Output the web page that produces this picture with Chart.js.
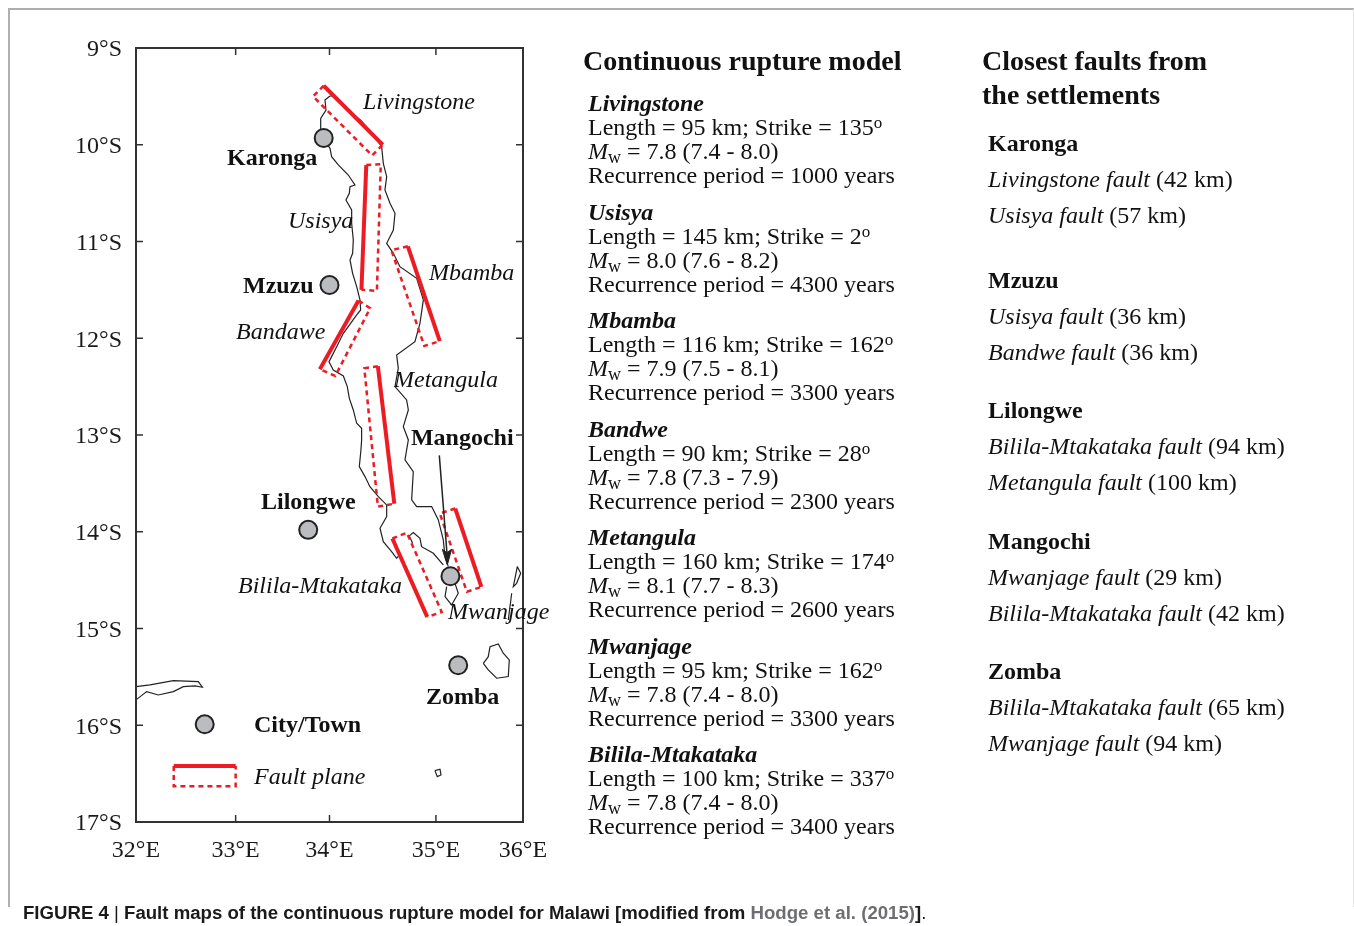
<!DOCTYPE html>
<html>
<head>
<meta charset="utf-8">
<script src="https://cdn.jsdelivr.net/npm/chart.js@4"></script>
<style>
  html, body { margin: 0; padding: 0; background: #fff; }
  body { width: 1354px; height: 926px; position: relative; overflow: hidden; font-family: "Liberation Serif", serif; color: #111; }
  #frame { position: absolute; left: 8px; top: 8px; width: 1346px; height: 899px; border-top: 2px solid #adadad; border-left: 2px solid #b0b0b0; border-right: 1px solid #e3e3e3; box-sizing: border-box; }
  canvas { position: absolute; left: 0; top: 0; }
  .line { position: absolute; font-size: 24px; line-height: 24px; white-space: nowrap; }
  .title { font-size: 28px; font-weight: bold; line-height: 34px; }
  .head { font-weight: bold; }
  .fname { font-weight: bold; font-style: italic; }
  .item { font-style: italic; }
  .item span { font-style: normal; }
  sup { font-size: 17px; line-height: 0; vertical-align: 7px; }
  sub { font-size: 18px; line-height: 0; vertical-align: -4px; }
  #caption { position: absolute; left: 23px; top: 902px; font: bold 18.62px "Liberation Sans", sans-serif; white-space: nowrap; color: #1a1a1a; }
  #caption .thin { font-weight: normal; }
  #caption .ref { color: #6d6e71; }
</style>
</head>
<body>
<div id="frame"></div>
<canvas id="map" width="1354" height="926"></canvas>
<div id="panel"></div>
<div id="caption">FIGURE 4 <span class="thin">|</span> Fault maps of the continuous rupture model for Malawi [modified from <span class="ref">Hodge et al. (2015)</span>]<span class="thin">.</span></div>

<script>
/* =========================
   DATA
========================= */

const latTicks = [9, 10, 11, 12, 13, 14, 15, 16, 17];
const lonTicks = [32, 33.03, 34.0, 35.1, 36];
const lonTickLabels = ["32°E", "33°E", "34°E", "35°E", "36°E"];

// lake shores, [lon, lat]
const westShore = [[34.005,9.496],[33.953,9.537],[33.964,9.641],[33.909,9.727],[33.909,9.83],[33.936,9.934],[34.005,10.037],[34.022,10.123],[34.091,10.209],[34.194,10.313],[34.263,10.416],[34.212,10.433],[34.205,10.502],[34.17,10.571],[34.229,10.674],[34.229,10.812],[34.246,10.984],[34.239,11.122],[34.212,11.191],[34.239,11.329],[34.281,11.467],[34.315,11.604],[34.322,11.708],[34.281,11.759],[34.194,11.88],[34.143,11.949],[34.074,12.087],[34.022,12.19],[33.995,12.242],[34.039,12.328],[34.143,12.39],[34.184,12.5],[34.205,12.621],[34.246,12.741],[34.281,12.879],[34.332,12.931],[34.332,13.051],[34.325,13.155],[34.308,13.327],[34.367,13.43],[34.418,13.534],[34.505,13.637],[34.591,13.723],[34.591,13.844],[34.522,13.964],[34.556,14.102],[34.642,14.205],[34.694,14.274],[34.722,14.24]];
const eastShore = [[34.005,9.496],[34.05,9.495],[34.229,9.675],[34.322,9.745],[34.436,9.875],[34.539,10.02],[34.556,10.192],[34.591,10.33],[34.573,10.468],[34.625,10.605],[34.677,10.709],[34.66,10.881],[34.591,11.019],[34.66,11.122],[34.728,11.26],[34.901,11.381],[34.97,11.604],[34.935,11.846],[34.883,12.035],[34.694,12.173],[34.711,12.311],[34.677,12.5],[34.797,12.638],[34.815,12.741],[34.763,12.914],[34.815,13.051],[34.78,13.258],[34.866,13.379],[34.849,13.671],[34.901,13.74],[35.056,13.74],[35.125,13.878],[35.176,14.085],[35.194,14.257],[35.228,14.36]];
const southShore = [[35.211,14.567],[35.194,14.67],[35.262,14.757],[35.331,14.636],[35.297,14.533],[35.331,14.429]];
const southArm = [[34.859,14.119],[34.825,14.043],[34.866,14.009],[34.935,14.068],[34.952,14.154],[35.073,14.223],[35.176,14.343]];
const lakeChilwa = [[35.59,15.36],[35.641,15.291],[35.659,15.187],[35.745,15.16],[35.796,15.256],[35.858,15.325],[35.848,15.497],[35.728,15.514],[35.641,15.428],[35.59,15.36]];
const cahoraBassa = [[32,15.601],[32.145,15.583],[32.386,15.539],[32.644,15.549],[32.686,15.607],[32.61,15.594],[32.489,15.601],[32.386,15.652],[32.231,15.687],[32.11,15.652],[32,15.738]];
const smallIsland = [[35.09,16.469],[35.142,16.455],[35.152,16.514],[35.114,16.531],[35.09,16.469]];
const eastLake = [[35.941,14.36],[35.9,14.567],[35.934,14.533],[35.976,14.429],[35.941,14.36]];
const eastStream = [[35.883,14.636],[35.848,14.912]];

// fault planes, first and last corners are the surface trace
const livingstoneFault = [[33.94,9.39],[33.83,9.5],[34.44,10.11],[34.55,10.0]];
const usisyaFault = [[34.38,10.21],[34.53,10.2],[34.49,11.51],[34.33,11.5]];
const mbambaFault = [[34.81,11.05],[34.64,11.09],[34.98,12.08],[35.14,12.03]];
const bandaweFault = [[34.3,11.61],[34.42,11.69],[34.06,12.39],[33.9,12.32]];
const metangulaFault = [[34.5,12.29],[34.36,12.31],[34.5,13.74],[34.67,13.71]];
const bililaFault = [[34.65,14.07],[34.8,14.01],[35.16,14.83],[35.01,14.88]];
const mwanjageFault = [[35.3,13.76],[35.14,13.81],[35.42,14.62],[35.57,14.57]];
const legendFault = [[32.39,16.42],[32.39,16.63],[33.03,16.63],[33.03,16.42]];

const cities = [[33.94,9.93],[34.0,11.45],[33.78,13.98],[35.25,14.46],[35.33,15.38],[32.71,15.99]];

const mangochiArrow = [[35.135,13.21],[35.214,14.22]];
const mangochiArrowHead = [[35.218,14.343],[35.166,14.181],[35.214,14.216],[35.262,14.181],[35.218,14.343]];

// map labels: text, lon, lat, bold?
const mapLabels = [
  ["Livingstone", 34.346, 9.568, false],
  ["Karonga", 32.941, 10.147, true],
  ["Usisya", 33.571, 10.798, false],
  ["Mbamba", 35.028, 11.335, false],
  ["Mzuzu", 33.106, 11.47, true],
  ["Bandawe", 33.034, 11.945, false],
  ["Metangula", 34.667, 12.441, false],
  ["Mangochi", 34.842, 13.041, true],
  ["Lilongwe", 33.292, 13.702, true],
  ["Bilila-Mtakataka", 33.054, 14.57, false],
  ["Mwanjage", 35.225, 14.839, false],
  ["Zomba", 34.997, 15.718, true],
  ["City/Town", 33.22, 16.007, true],
  ["Fault plane", 33.22, 16.545, false]
];

const faultNames = ["Livingstone", "Usisya", "Mbamba", "Bandwe", "Metangula", "Mwanjage", "Bilila-Mtakataka"];
const faultLengths = [95, 145, 116, 90, 160, 95, 100];
const faultStrikes = [135, 2, 162, 28, 174, 162, 337];
const faultMw = ["7.8 (7.4 - 8.0)", "8.0 (7.6 - 8.2)", "7.9 (7.5 - 8.1)", "7.8 (7.3 - 7.9)", "8.1 (7.7 - 8.3)", "7.8 (7.4 - 8.0)", "7.8 (7.4 - 8.0)"];
const faultRecurrence = [1000, 4300, 3300, 2300, 2600, 3300, 3400];
const faultRowY = [103, 212, 320, 429, 537, 646, 754];

const settlements = ["Karonga", "Mzuzu", "Lilongwe", "Mangochi", "Zomba"];
const settlementRowY = [143, 280, 410, 541, 671];
const closestFaults = [
  [["Livingstone", 42], ["Usisya", 57]],
  [["Usisya", 36], ["Bandwe", 36]],
  [["Bilila-Mtakataka", 94], ["Metangula", 100]],
  [["Mwanjage", 29], ["Bilila-Mtakataka", 42]],
  [["Bilila-Mtakataka", 65], ["Mwanjage", 94]]
];

/* =========================
   RIGHT PANELS
========================= */

const panel = document.getElementById("panel");

function addLine(x, y, html, cls = "") {
  const el = document.createElement("div");
  el.className = "line " + cls;
  el.style.left = x + "px";
  el.style.top = (y - 12) + "px";
  el.innerHTML = html;
  panel.appendChild(el);
}

addLine(583, 56, "Continuous rupture model", "title");
addLine(982, 56, "Closest faults from", "title");
addLine(982, 90, "the settlements", "title");

faultNames.forEach((name, i) => {
  const y = faultRowY[i];
  addLine(588, y, name, "fname");
  addLine(588, y + 24, `Length = ${faultLengths[i]} km; Strike = ${faultStrikes[i]}<sup>o</sup>`);
  addLine(588, y + 48, `<i>M</i><sub>w</sub> = ${faultMw[i]}`);
  addLine(588, y + 72, `Recurrence period = ${faultRecurrence[i]} years`);
});

settlements.forEach((name, i) => {
  const y = settlementRowY[i];
  addLine(988, y, name, "head");
  closestFaults[i].forEach((f, k) => {
    addLine(988, y + 36 + k * 36, `${f[0]} fault <span>(${f[1]} km)</span>`, "item");
  });
});

/* =========================
   CHART
========================= */

const toPoints = arr => arr.map(p => ({ x: p[0], y: p[1] }));
const black = "#222222";
const red = "#ed1c24";

function shore(arr) {
  return { data: toPoints(arr), showLine: true, borderColor: black, borderWidth: 1.2, pointRadius: 0, fill: false };
}
function trace(box) {
  return { data: toPoints([box[0], box[3]]), showLine: true, borderColor: red, borderWidth: 4, pointRadius: 0 };
}
function plane(box) {
  return { data: toPoints(box), showLine: true, borderColor: red, borderWidth: 2.5, borderDash: [5, 4], pointRadius: 0 };
}

const faults = [livingstoneFault, usisyaFault, mbambaFault, bandaweFault, metangulaFault, bililaFault, mwanjageFault, legendFault];

// first dataset ends up on top
const datasets = [
  {
    data: toPoints(mangochiArrowHead), showLine: true, fill: "shape", borderColor: black, borderWidth: 1,
    backgroundColor: black, pointRadius: 0
  },
  { data: toPoints(mangochiArrow), showLine: true, borderColor: black, borderWidth: 1.5, pointRadius: 0 },
  {
    data: toPoints(cities), pointRadius: 9, pointBackgroundColor: "#bbbcc0",
    pointBorderColor: black, pointBorderWidth: 2
  },
  ...faults.map(trace),
  ...faults.map(plane),
  ...[westShore, eastShore, southShore, southArm, lakeChilwa, cahoraBassa, smallIsland, eastLake, eastStream].map(shore)
];

// box, inward ticks and map labels
const mapDecor = {
  id: "mapDecor",
  afterDraw(chart) {
    const { ctx, chartArea: a, scales } = chart;
    ctx.save();
    ctx.strokeStyle = "#333333";
    ctx.lineWidth = 2;
    ctx.strokeRect(a.left, a.top, a.right - a.left, a.bottom - a.top);

    ctx.lineWidth = 1.5;
    ctx.beginPath();
    lonTicks.slice(1, -1).forEach(v => {
      const x = scales.x.getPixelForValue(v);
      ctx.moveTo(x, a.top); ctx.lineTo(x, a.top + 7);
      ctx.moveTo(x, a.bottom); ctx.lineTo(x, a.bottom - 7);
    });
    latTicks.slice(1, -1).forEach(v => {
      const y = scales.y.getPixelForValue(v);
      ctx.moveTo(a.left, y); ctx.lineTo(a.left + 7, y);
      ctx.moveTo(a.right, y); ctx.lineTo(a.right - 7, y);
    });
    ctx.stroke();

    ctx.fillStyle = "#111111";
    ctx.textBaseline = "middle";
    ctx.textAlign = "left";
    mapLabels.forEach(l => {
      ctx.font = (l[3] ? "bold" : "italic") + ' 24px "Liberation Serif"';
      ctx.fillText(l[0], scales.x.getPixelForValue(l[1]), scales.y.getPixelForValue(l[2]));
    });
    ctx.restore();
  }
};

new Chart(document.getElementById("map"), {
  type: "scatter",
  data: { datasets },
  plugins: [mapDecor],
  options: {
    responsive: false,
    animation: false,
    layout: { padding: { top: 48, right: 831, left: 0, bottom: 0 } },
    plugins: { legend: { display: false }, tooltip: { enabled: false } },
    scales: {
      x: {
        type: "linear",
        min: 32,
        max: 36,
        afterBuildTicks: s => { s.ticks = lonTicks.map(value => ({ value })); },
        afterFit: s => { s.height = 104; },
        grid: { drawOnChartArea: false, drawTicks: false },
        border: { display: false },
        ticks: {
          callback: (v, i) => lonTickLabels[i],
          autoSkip: false,
          maxRotation: 0,
          padding: 14,
          color: "#1a1a1a",
          font: { family: "Liberation Serif", size: 24 }
        }
      },
      y: {
        type: "linear",
        reverse: true,
        min: 9,
        max: 17,
        afterBuildTicks: s => { s.ticks = latTicks.map(value => ({ value })); },
        afterFit: s => { s.width = 136; },
        grid: { drawOnChartArea: false, drawTicks: false },
        border: { display: false },
        ticks: {
          callback: v => v + "°S",
          autoSkip: false,
          padding: 14,
          labelOffset: 2,
          color: "#1a1a1a",
          font: { family: "Liberation Serif", size: 24 }
        }
      }
    }
  }
});
</script>
</body>
</html>
